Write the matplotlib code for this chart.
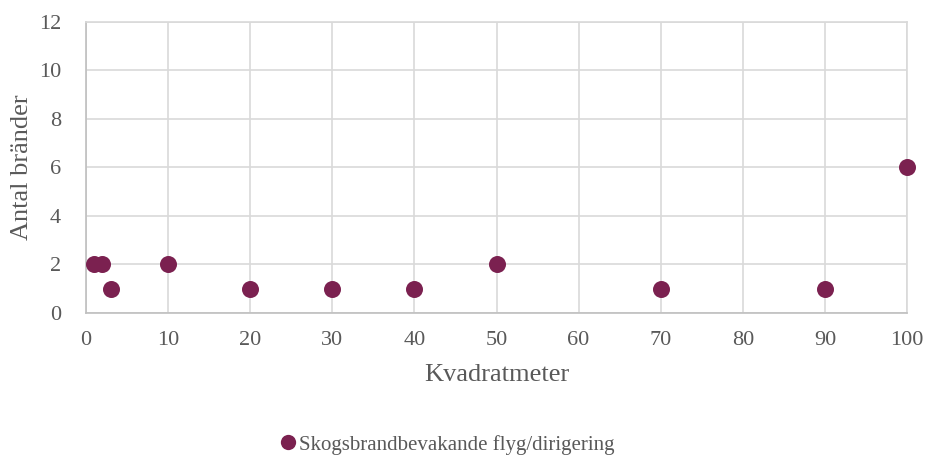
import matplotlib
matplotlib.use("Agg")
import matplotlib.pyplot as plt
from matplotlib.lines import Line2D

plt.rcParams['font.family'] = ['Liberation Serif', 'DejaVu Serif']

kvadratmeter = [1, 2, 3, 10, 20, 30, 40, 50, 70, 90, 100]
antal_brander = [2, 2, 1, 2, 1, 1, 1, 2, 1, 1, 6]
series_name = "Skogsbrandbevakande flyg/dirigering"

marker_color = "#7B2150"
text_color = "#595959"
grid_color = "#D9D9D9"

fig = plt.figure(figsize=(9.27, 4.57), dpi=100)
ax = fig.add_axes([0.0928, 0.3151, 0.9784 - 0.0928, 0.9519 - 0.3151])

ax.scatter(kvadratmeter, antal_brander, s=150, color=marker_color, zorder=3,
           linewidths=0, clip_on=False)

ax.set_xlim(0, 100)
ax.set_ylim(0, 12)
ax.set_xticks(range(0, 101, 10))
ax.set_yticks(range(0, 13, 2))
ax.grid(True, color=grid_color, linewidth=1.2)
ax.set_axisbelow(True)
for side, sp in ax.spines.items():
    sp.set_color(grid_color)
    sp.set_linewidth(1.2)
ax.spines['left'].set_color("#BFBFBF")
ax.spines['bottom'].set_color("#BFBFBF")
ax.tick_params(length=0, labelsize=16, colors=text_color)
ax.tick_params(axis='x', pad=13)
ax.tick_params(axis='y', pad=18)

ax.set_xlabel("Kvadratmeter", fontsize=19, color=text_color, labelpad=10)
ax.set_ylabel("Antal bränder", fontsize=19, color=text_color, labelpad=4)

handle = Line2D([], [], marker='o', linestyle='none', markersize=11,
                markerfacecolor=marker_color, markeredgewidth=0)
fig.legend([handle], [series_name], loc='center', bbox_to_anchor=(0.481, 0.027),
           frameon=False, fontsize=15, handletextpad=0.0, labelcolor=text_color,
           handlelength=1.0)

fig.savefig("out.png", dpi=100)
